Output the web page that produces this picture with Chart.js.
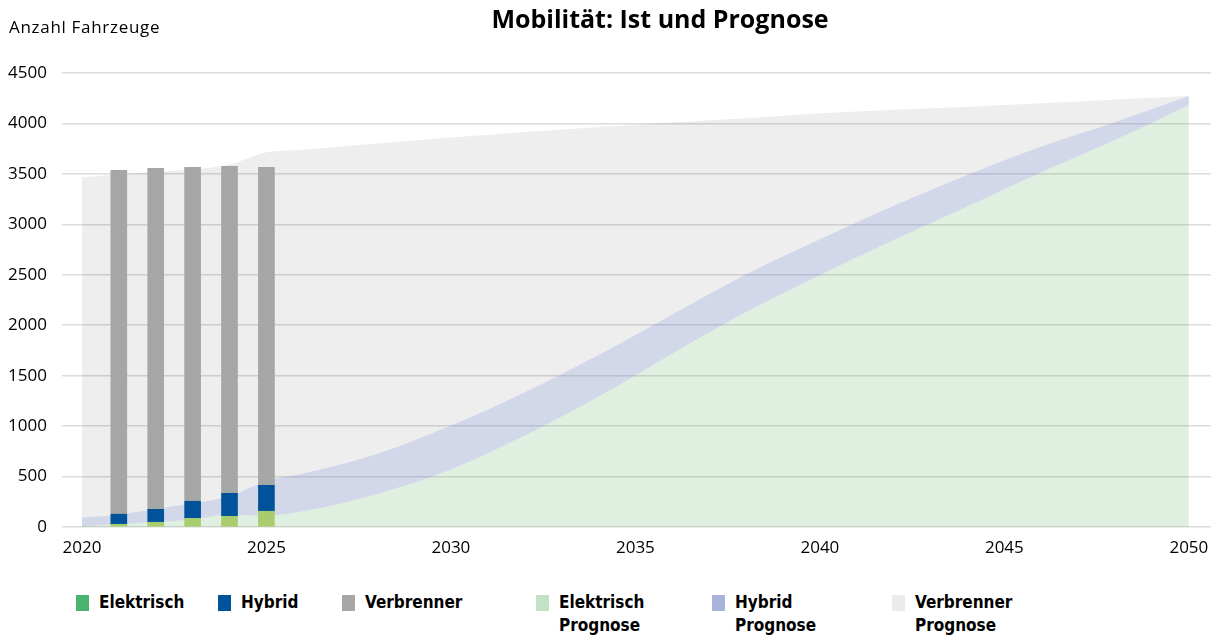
<!DOCTYPE html>
<html lang="de">
<head>
<meta charset="utf-8">
<title>Mobilität: Ist und Prognose</title>
<script src="https://cdn.jsdelivr.net/npm/chart.js@4.4.1/dist/chart.umd.min.js"></script>
<style>
    body { margin: 0; background: #fff; font-family: "Open Sans", sans-serif; color: #000; }
    #wrap { position: relative; width: 1225px; height: 637px; overflow: hidden; }
    #chartBox { position: absolute; left: 0; top: 0; width: 1225px; height: 565px; }
    #title { position: absolute; top: 0px; left: 410px; width: 500px; text-align: center; font-size: 25px; font-weight: 700; line-height: 36px; }
    #yTitle { position: absolute; top: 16px; left: 9px; font-size: 17px; line-height: 22px; letter-spacing: 0.7px; }
    #legend { position: absolute; left: 0; top: 593px; width: 1225px; height: 44px; font-family: "DejaVu Sans Condensed", "DejaVu Sans", sans-serif; font-weight: 700; font-size: 17px; line-height: 23px; }
    .item { position: absolute; top: 0; }
    .item .box { position: absolute; left: 0; top: 2px; width: 13px; height: 16px; }
    .item .txt { position: absolute; left: 23px; top: -2px; white-space: nowrap; }
    .item:nth-child(1) { left: 76px; }
    .item:nth-child(2) { left: 218px; }
    .item:nth-child(3) { left: 342px; }
    .item:nth-child(4) { left: 536px; }
    .item:nth-child(5) { left: 712px; }
    .item:nth-child(6) { left: 892px; }
</style>
</head>
<body>
<div id="wrap">
    <div id="chartBox"><canvas id="mobChart"></canvas></div>
    <div id="title">Mobilität: Ist und Prognose</div>
    <div id="yTitle">Anzahl Fahrzeuge</div>
    <div id="legend"></div>
</div>
<script>
// Ist-Werte (Balken)
const istJahre = [2021, 2022, 2023, 2024, 2025];
const istElektrisch = [27, 47, 86, 106, 156];
const istHybrid = [100, 128, 169, 228, 257];
const istVerbrenner = [3409, 3380, 3310, 3241, 3152];

// Prognose (gestapelte Flächen)
const progJahre = [2020, 2021, 2022, 2023, 2024, 2025, 2026, 2028, 2030, 2032, 2034, 2036, 2038, 2040, 2042, 2044, 2046, 2048, 2050];
const progElektrisch = [5, 30, 50, 75, 125, 112, 155, 327, 570, 907, 1292, 1718, 2130, 2496, 2844, 3176, 3517, 3836, 4183];
const progHybrid = [91, 92, 130, 160, 180, 343, 375, 398, 435, 429, 413, 388, 375, 356, 339, 315, 255, 179, 89];
const progVerbrenner = [3371, 3371, 3340, 3310, 3287, 3260, 3210, 3075, 2855, 2579, 2260, 1904, 1546, 1248, 952, 675, 428, 223, 0];

const xTicks = [2020, 2025, 2030, 2035, 2040, 2045, 2050];
const yTicks = [0, 500, 1000, 1500, 2000, 2500, 3000, 3500, 4000, 4500];

function toPoints(years, values) {
    return years.map((y, i) => ({ x: y, y: values[i] }));
}

function barSet(label, values, color, legendColor) {
    return {
        type: 'bar',
        label: label,
        data: toPoints(istJahre, values),
        backgroundColor: color,
        legendColor: legendColor,
        stack: 'ist',
        barThickness: 16,
        order: 0
    };
}

function areaSet(label, values, color, legendColor, fill) {
    return {
        type: 'line',
        label: label,
        data: toPoints(progJahre, values),
        backgroundColor: color,
        legendColor: legendColor,
        borderWidth: 0,
        pointRadius: 0,
        fill: fill,
        cubicInterpolationMode: 'monotone',
        stack: 'prognose',
        order: 1
    };
}

const datasets = [
    barSet('Elektrisch', istElektrisch, '#a9cc6e', '#4cb36e'),
    barSet('Hybrid', istHybrid, '#00529b', '#00529b'),
    barSet('Verbrenner', istVerbrenner, '#a5a7a4', '#a5a7a4'),
    areaSet('Elektrisch\nPrognose', progElektrisch, 'rgba(110, 180, 115, 0.22)', '#c1e2c5', 'origin'),
    areaSet('Hybrid\nPrognose', progHybrid, 'rgba(105, 122, 185, 0.30)', '#a9b3d9', '-1'),
    areaSet('Verbrenner\nPrognose', progVerbrenner, 'rgba(0, 0, 0, 0.067)', '#ebebeb', '-1')
];

const tickFont = { family: '"Open Sans", sans-serif', size: 17 };

new Chart(document.getElementById('mobChart'), {
    type: 'bar',
    data: { datasets: datasets },
    options: {
        responsive: true,
        maintainAspectRatio: false,
        animation: false,
        layout: { padding: { top: 73, right: 14, left: 0, bottom: 0 } },
        plugins: {
            legend: { display: false },
            tooltip: { enabled: false },
            title: { display: false }
        },
        scales: {
            x: {
                type: 'linear',
                min: 2019.46,
                max: 2050.6,
                offset: false,
                stacked: true,
                grid: { display: false, drawTicks: false },
                border: { display: false },
                afterBuildTicks: (scale) => { scale.ticks = xTicks.map(v => ({ value: v })); },
                afterFit: (scale) => { scale.height = 38; },
                ticks: {
                    color: '#000',
                    font: tickFont,
                    padding: 11,
                    maxRotation: 0,
                    autoSkip: false,
                    callback: (v) => String(v)
                }
            },
            y: {
                min: 0,
                max: 4500,
                stacked: true,
                grid: { color: '#dcdcdc', lineWidth: 1.5, drawTicks: false },
                border: { display: false },
                afterBuildTicks: (scale) => { scale.ticks = yTicks.map(v => ({ value: v })); },
                afterFit: (scale) => { scale.width = 62; },
                ticks: {
                    color: '#000',
                    font: tickFont,
                    padding: 15,
                    callback: (v) => String(v)
                }
            }
        }
    }
});

// HTML-Legende mit zweizeiligen Beschriftungen
const legendBox = document.getElementById('legend');
legendBox.innerHTML = datasets.map(ds => `
    <div class="item">
        <span class="box" style="background:${ds.legendColor}"></span>
        <span class="txt">${ds.label.replace('\n', '<br>')}</span>
    </div>`).join('');
</script>
</body>
</html>
